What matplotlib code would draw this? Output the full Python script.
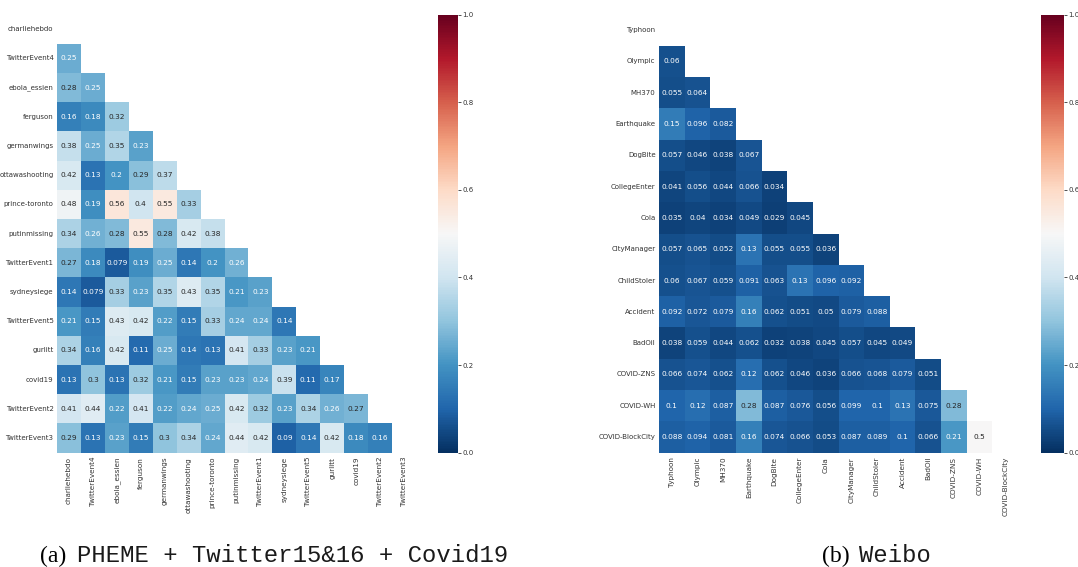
import numpy as np
import pandas as pd
import matplotlib
matplotlib.use('Agg')
import matplotlib.pyplot as plt
import seaborn as sns

# (a) PHEME + Twitter15&16 + Covid19 -- lower triangle, row by row
pheme_events = ['charliehebdo', 'TwitterEvent4', 'ebola_essien', 'ferguson', 'germanwings',
                'ottawashooting', 'prince-toronto', 'putinmissing', 'TwitterEvent1', 'sydneysiege',
                'TwitterEvent5', 'gurlitt', 'covid19', 'TwitterEvent2', 'TwitterEvent3']
pheme_rows = [
    [],
    [0.25],
    [0.28, 0.25],
    [0.16, 0.18, 0.32],
    [0.38, 0.25, 0.35, 0.23],
    [0.42, 0.13, 0.2, 0.29, 0.37],
    [0.48, 0.19, 0.56, 0.4, 0.55, 0.33],
    [0.34, 0.26, 0.28, 0.55, 0.28, 0.42, 0.38],
    [0.27, 0.18, 0.079, 0.19, 0.25, 0.14, 0.2, 0.26],
    [0.14, 0.079, 0.33, 0.23, 0.35, 0.43, 0.35, 0.21, 0.23],
    [0.21, 0.15, 0.43, 0.42, 0.22, 0.15, 0.33, 0.24, 0.24, 0.14],
    [0.34, 0.16, 0.42, 0.11, 0.25, 0.14, 0.13, 0.41, 0.33, 0.23, 0.21],
    [0.13, 0.3, 0.13, 0.32, 0.21, 0.15, 0.23, 0.23, 0.24, 0.39, 0.11, 0.17],
    [0.41, 0.44, 0.22, 0.41, 0.22, 0.24, 0.25, 0.42, 0.32, 0.23, 0.34, 0.26, 0.27],
    [0.29, 0.13, 0.23, 0.15, 0.3, 0.34, 0.24, 0.44, 0.42, 0.09, 0.14, 0.42, 0.18, 0.16],
]

# (b) Weibo
weibo_events = ['Typhoon', 'Olympic', 'MH370', 'Earthquake', 'DogBite', 'CollegeEnter', 'Cola',
                'CityManager', 'ChildStoler', 'Accident', 'BadOil', 'COVID-ZNS', 'COVID-WH',
                'COVID-BlockCity']
weibo_rows = [
    [],
    [0.06],
    [0.055, 0.064],
    [0.15, 0.096, 0.082],
    [0.057, 0.046, 0.038, 0.067],
    [0.041, 0.056, 0.044, 0.066, 0.034],
    [0.035, 0.04, 0.034, 0.049, 0.029, 0.045],
    [0.057, 0.065, 0.052, 0.13, 0.055, 0.055, 0.036],
    [0.06, 0.067, 0.059, 0.091, 0.063, 0.13, 0.096, 0.092],
    [0.092, 0.072, 0.079, 0.16, 0.062, 0.051, 0.05, 0.079, 0.088],
    [0.038, 0.059, 0.044, 0.062, 0.032, 0.038, 0.045, 0.057, 0.045, 0.049],
    [0.066, 0.074, 0.062, 0.12, 0.062, 0.046, 0.036, 0.066, 0.068, 0.079, 0.051],
    [0.1, 0.12, 0.087, 0.28, 0.087, 0.076, 0.056, 0.099, 0.1, 0.13, 0.075, 0.28],
    [0.088, 0.094, 0.081, 0.16, 0.074, 0.066, 0.053, 0.087, 0.089, 0.1, 0.066, 0.21, 0.5],
]


def to_frame(rows, names):
    n = len(names)
    m = np.full((n, n), np.nan)
    for i, r in enumerate(rows):
        m[i, :len(r)] = r
    return pd.DataFrame(m, index=names, columns=names)


W, H = 1078, 567
fig = plt.figure(figsize=(W / 100, H / 100), dpi=100)
fig.patch.set_facecolor('white')


def px(x0, y0, x1, y1):
    return [x0 / W, 1 - y1 / H, (x1 - x0) / W, (y1 - y0) / H]


panels = [
    (pheme_rows, pheme_events, px(57, 14.5, 416, 452.7), px(438, 14.5, 458, 452.7),
     40, 77, '(a)', 'PHEME + Twitter15&16 + Covid19'),
    (weibo_rows, weibo_events, px(659, 14.5, 1018, 452.7), px(1041, 14.5, 1064, 452.7),
     822, 859, '(b)', 'Weibo'),
]

for rows, names, hm_rect, cb_rect, lx, mx, tag, caption in panels:
    df = to_frame(rows, names)
    mask = np.triu(np.ones(df.shape, dtype=bool))
    ax = fig.add_axes(hm_rect)
    cax = fig.add_axes(cb_rect)
    sns.heatmap(df, mask=mask, annot=True, cmap='RdBu_r', vmin=0, vmax=1,
                ax=ax, cbar_ax=cax, annot_kws={'size': 5.3})
    ax.tick_params(axis='x', length=0, labelsize=5.2, labelcolor='0.2', pad=3)
    ax.tick_params(axis='y', length=0, labelsize=5.0, labelcolor='0.2', pad=2.5)
    ax.set_xticklabels(names, rotation=90)
    ax.set_yticklabels(names, rotation=0)
    cax.tick_params(labelsize=5, length=2, width=0.6, pad=1, colors='0.2')
    cax.set_yticks([0, 0.2, 0.4, 0.6, 0.8, 1.0])
    fig.text(lx / W, 5 / H, tag, family='Liberation Serif', fontsize=17, va='baseline')
    fig.text(mx / W, 5 / H, caption, family='Liberation Mono', fontsize=17.2,
             va='baseline', color='0.1')

fig.savefig('out.png', dpi=100, facecolor='white')
